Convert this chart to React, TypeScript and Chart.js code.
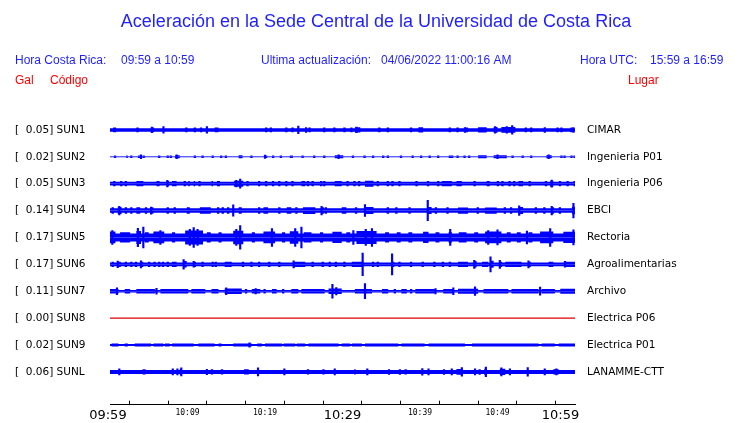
import React, { useEffect, useRef } from 'react';
import { Chart, registerables } from 'chart.js';

Chart.register(...registerables);

// ---- text ----
const titleText = 'Aceleración en la Sede Central de la Universidad de Costa Rica';
const headerLeft = ['Hora Costa Rica:', '09:59 a 10:59'];
const headerMid = ['Ultima actualización:', '04/06/2022 11:00:16 AM'];
const headerRight = ['Hora UTC:', '15:59 a 16:59'];
const columnHeads = ['Gal', 'Código', 'Lugar'];

// ---- stations ----
const stationCodes = ['SUN1', 'SUN2', 'SUN3', 'SUN4', 'SUN5', 'SUN6', 'SUN7', 'SUN8', 'SUN9', 'SUNL'];
const peakGal = ['0.05', '0.02', '0.05', '0.14', '0.17', '0.17', '0.11', '0.00', '0.02', '0.06'];
const placeNames = ['CIMAR', 'Ingenieria P01', 'Ingenieria P06', 'EBCI', 'Rectoria', 'Agroalimentarias', 'Archivo', 'Electrica P06', 'Electrica P01', 'LANAMME-CTT'];

// ---- time axis (minutes after 09:59) ----
const tickMinutes = [0, 5, 10, 15, 20, 25, 30, 35, 40, 45, 50, 55, 60];
const timeTickLabels = ['09:59', '', '10:09', '', '10:19', '', '10:29', '', '10:39', '', '10:49', '', '10:59'];

// ---- amplitudes (percent of trace spacing) ----
const baseAmp = [6.5, 2, 7, 8.5, 15, 7, 5, 0, 3.5, 7.5];

// bursts: [start min, end min, half amplitude]
const sun1Bursts = [[0.4, 0.8, 9], [3.4, 3.7, 9], [5.4, 5.7, 9], [9.7, 10.0, 9], [10.8, 11.1, 9], [11.6, 11.9, 9], [13.5, 14.0, 9], [20.0, 20.3, 9], [20.6, 20.9, 9], [22.6, 22.9, 9], [23.4, 23.7, 9], [25.6, 25.9, 9], [27.5, 27.8, 9], [28.8, 29.1, 9], [30.1, 30.4, 9], [31.0, 31.3, 9], [31.6, 32.3, 10], [34.6, 34.9, 9], [35.7, 36.0, 9], [38.7, 39.0, 9], [39.8, 40.4, 10], [43.7, 44.0, 9], [44.7, 45.0, 9], [45.8, 46.2, 9], [47.5, 48.6, 10], [49.5, 50.0, 11], [50.5, 52.3, 10.5], [53.5, 53.8, 9], [54.2, 54.5, 9], [57.6, 57.9, 9], [58.1, 58.4, 9], [59.4, 59.7, 9]];
const sun1Spikes = [[5.4, 10], [6.9, 12], [12.5, 12], [24.3, 14], [25.3, 9], [31.8, 10], [45.8, 9], [49.7, 12], [51.2, 12], [51.9, 16], [56.1, 9], [59.8, 9]];

const sun2Bursts = [[0.5, 0.8, 5], [2.1, 2.3, 5], [2.6, 2.9, 5], [3.6, 4.0, 5], [4.2, 4.5, 5], [6.2, 6.5, 5], [7.3, 7.6, 5], [7.7, 8.0, 5], [8.4, 9.0, 5.5], [10.8, 11.1, 5], [11.8, 12.1, 5], [13.1, 13.4, 5], [14.2, 14.5, 5], [14.8, 15.1, 5], [16.6, 17.1, 5.5], [18.1, 18.4, 5], [20.0, 20.3, 5], [20.9, 21.2, 5], [21.9, 22.2, 5], [23.2, 23.6, 5], [24.7, 25.0, 5], [26.2, 26.5, 5], [27.5, 27.8, 5], [29.0, 30.1, 5.5], [31.2, 31.5, 5], [32.7, 33.0, 5], [33.8, 34.1, 5], [35.1, 35.4, 5], [35.7, 36.0, 5], [37.4, 37.7, 5], [38.9, 39.2, 5], [40.0, 40.3, 5], [41.1, 41.4, 5], [42.2, 42.5, 5], [43.7, 44.3, 5], [44.7, 45.0, 5], [45.6, 45.9, 5], [46.2, 46.5, 5], [47.5, 48.6, 5.5], [49.5, 51.2, 5.5], [51.8, 52.1, 5], [53.1, 53.4, 5], [54.2, 54.5, 5], [56.3, 57.0, 5.5], [58.1, 58.4, 5], [58.5, 58.8, 5], [59.4, 59.7, 5], [59.8, 60, 5]];
const sun2Spikes = [[4.0, 7], [8.6, 7], [20.0, 6], [29.5, 7], [50.0, 7], [56.6, 7]];

const sun3Bursts = [[0.4, 0.7, 10], [1.3, 1.6, 10], [1.9, 2.2, 10], [3.4, 4.3, 10], [6.0, 6.4, 10], [7.3, 7.6, 10], [8.0, 8.6, 10], [9.5, 9.8, 10], [10.1, 10.3, 10], [10.8, 11.0, 10], [11.4, 11.7, 10], [13.1, 13.3, 10], [13.8, 14.2, 10], [16.0, 17.2, 11], [17.6, 17.9, 10], [19.1, 19.4, 10], [20.0, 20.3, 10], [20.9, 21.2, 10], [21.7, 22.0, 10], [22.6, 22.9, 10], [23.4, 23.7, 10], [24.7, 25.2, 10], [25.4, 25.7, 10], [26.0, 26.3, 10], [27.1, 27.4, 10], [27.5, 27.8, 10], [29.0, 29.9, 10], [30.5, 30.8, 10], [31.4, 31.7, 10], [32.0, 32.3, 10], [32.9, 34.0, 11], [34.4, 34.7, 10], [35.7, 36.0, 10], [36.3, 36.6, 10], [37.2, 37.5, 10], [39.4, 39.7, 10], [40.9, 41.2, 10], [42.2, 42.5, 10], [42.8, 44.1, 10], [44.7, 45.4, 10], [46.9, 47.2, 10], [48.6, 49.0, 10], [49.9, 50.2, 10], [50.5, 50.8, 10], [51.4, 51.7, 10], [52.0, 52.3, 10], [52.7, 53.3, 10], [54.0, 54.3, 10], [56.1, 56.4, 10], [56.8, 57.2, 11], [57.9, 58.2, 10], [58.9, 59.2, 10], [59.8, 60, 10]];
const sun3Spikes = [[7.4, 12], [16.3, 12], [16.8, 17], [57.0, 13]];

const sun4Bursts = [[0.2, 0.5, 12], [1.0, 1.5, 13], [1.9, 2.2, 12], [2.6, 2.9, 12], [3.4, 3.9, 12], [4.5, 4.8, 12], [5.3, 5.6, 12], [7.3, 7.6, 12], [8.2, 8.5, 12], [9.9, 10.3, 12], [11.6, 13.0, 12], [13.8, 14.1, 12], [14.4, 14.7, 12], [15.1, 15.4, 12], [16.6, 17.0, 12], [19.1, 19.4, 12], [19.8, 20.4, 12], [21.7, 22.0, 12], [22.8, 23.4, 12], [23.9, 24.2, 12], [24.9, 26.5, 12.5], [27.3, 27.6, 12], [27.7, 28.0, 12], [29.9, 30.5, 12], [31.6, 31.9, 12], [32.9, 34.0, 13], [35.7, 36.0, 12], [36.8, 37.1, 12], [38.5, 38.8, 12], [41.0, 41.5, 13], [41.9, 42.2, 12], [43.4, 43.7, 12], [44.9, 46.2, 11.5], [47.3, 47.6, 12], [48.4, 49.9, 11.5], [50.8, 51.1, 12], [51.6, 51.9, 12], [52.7, 53.3, 13], [54.8, 55.1, 12], [55.9, 56.2, 12], [57.0, 57.3, 12], [57.9, 58.2, 12], [59.6, 60, 14]];
const sun4Spikes = [[1.2, 16], [5.3, 13], [15.9, 21], [27.3, 16], [32.9, 22], [41.0, 38], [52.8, 18], [57.0, 16], [59.8, 27]];

const sun5Bursts = [[0, 0.7, 22], [1.3, 2.6, 19], [3.4, 4.0, 24], [4.5, 5.0, 19], [5.6, 7.0, 22], [8.0, 8.4, 19], [9.7, 12.0, 26], [12.5, 13.0, 19], [14.0, 14.4, 19], [15.9, 17.2, 25], [18.3, 18.7, 19], [19.8, 21.3, 22], [22.2, 22.6, 19], [23.2, 24.3, 23], [25.0, 26.0, 19], [27.1, 27.5, 19], [28.7, 29.9, 21], [30.5, 31.0, 19], [31.8, 34.4, 24], [35.5, 36.0, 19], [37.0, 37.5, 19], [38.5, 39.0, 19], [40.4, 41.1, 21], [42.0, 42.5, 19], [43.7, 44.1, 20], [45.0, 46.0, 19], [47.0, 47.5, 19], [48.4, 50.5, 22], [51.2, 51.7, 19], [52.5, 53.0, 19], [54.0, 54.5, 19], [55.5, 57.2, 22], [58.5, 60, 21]];
const sun5Spikes = [[0.3, 26], [3.6, 34], [4.3, 39], [6.5, 26], [10.3, 30], [10.8, 37], [11.3, 30], [16.3, 30], [16.8, 44], [20.9, 33], [23.9, 33], [24.7, 39], [31.4, 26], [33.0, 30], [33.8, 33], [43.9, 30], [48.8, 26], [50.0, 28], [53.8, 24], [56.8, 33], [59.8, 28]];

const sun6Bursts = [[0.2, 0.5, 10], [1.0, 1.4, 10], [1.9, 2.2, 10], [2.6, 2.9, 10], [3.2, 3.5, 10], [4.0, 4.3, 10], [4.9, 5.2, 10], [5.6, 5.9, 10], [6.2, 6.5, 10], [6.7, 7.0, 10], [7.3, 7.6, 10], [8.0, 8.6, 10], [9.5, 9.9, 12], [10.8, 11.1, 10], [11.8, 12.1, 10], [13.1, 13.4, 10], [13.5, 13.8, 10], [14.8, 15.7, 10], [17.0, 17.3, 10], [18.1, 18.4, 10], [19.1, 19.4, 10], [20.4, 20.7, 10], [21.7, 22.0, 10], [23.7, 25.2, 10], [26.0, 26.3, 10], [27.3, 27.6, 10], [28.2, 28.5, 10], [29.0, 29.3, 10], [30.1, 30.4, 10], [31.2, 32.7, 10], [33.8, 34.1, 10], [34.4, 34.7, 10], [36.4, 36.7, 10], [37.2, 37.5, 10], [38.7, 39.0, 10], [40.2, 40.5, 10], [41.7, 42.0, 10], [42.8, 43.1, 10], [43.7, 44.0, 10], [44.9, 46.2, 10], [47.0, 47.3, 12], [48.0, 48.8, 10], [49.1, 49.5, 13], [50.3, 50.6, 10], [51.0, 53.1, 10], [54.0, 54.3, 10], [56.6, 57.2, 10], [58.7, 60, 10]];
const sun6Spikes = [[1.0, 12], [4.0, 13], [9.5, 18], [10.8, 11], [23.7, 13], [32.6, 42], [36.4, 39], [47.0, 15], [49.1, 28], [50.3, 15], [54.0, 13], [58.7, 11]];

const sun7Bursts = [[0, 1.1, 8.5], [1.9, 2.6, 8.5], [3.4, 5.8, 8.5], [6.5, 10.1, 8.5], [10.5, 12.3, 8.5], [13.1, 14.0, 8.5], [14.8, 17.0, 10], [17.4, 17.7, 8.5], [18.3, 19.4, 8.5], [19.8, 20.1, 8.5], [20.9, 21.5, 8.5], [22.2, 22.5, 8.5], [23.4, 24.3, 8.5], [24.7, 27.7, 8.5], [28.2, 29.9, 10], [31.6, 33.8, 8.5], [35.1, 35.9, 8.5], [36.6, 36.9, 8.5], [37.6, 38.3, 8.5], [38.7, 39.0, 8.5], [39.4, 41.9, 8.5], [43.0, 44.3, 8.5], [44.9, 47.5, 9], [48.2, 51.4, 8.5], [51.8, 55.3, 8.5], [55.7, 57.4, 8.5], [58.1, 60, 9.5]];
const sun7Spikes = [[0.9, 13], [6.0, 11], [15.0, 13], [18.8, 10], [28.7, 26], [29.2, 14], [32.9, 28], [42.0, 10], [44.3, 13], [47.1, 16], [55.5, 15]];

const sun8Bursts = [];
const sun8Spikes = [];

const sun9Bursts = [[0.2, 1.1, 6], [1.9, 2.3, 6], [3.2, 5.3, 5.5], [5.6, 6.9, 6], [7.1, 7.7, 6], [8.0, 10.8, 6], [11.4, 13.5, 6], [14.0, 14.4, 6], [15.9, 18.3, 6], [19.0, 19.6, 6], [20.0, 22.2, 6], [22.4, 23.9, 6], [24.1, 25.2, 6], [25.6, 29.5, 6], [29.9, 31.0, 6], [31.2, 32.5, 6], [32.9, 37.2, 6], [37.6, 40.6, 6], [41.1, 45.8, 6], [46.7, 55.3, 6], [55.7, 57.4, 6], [57.9, 60, 6]];
const sun9Spikes = [[18.0, 8]];

const sunLBursts = [[4.2, 4.6, 10], [9.0, 9.3, 11], [13.0, 13.3, 10], [14.3, 14.6, 10], [17.3, 17.9, 10], [25.4, 25.7, 10], [27.4, 27.7, 10], [31.5, 31.7, 10], [38.0, 38.3, 10], [44.7, 45.5, 10.5], [48.3, 48.6, 12], [50.3, 51.0, 11.5], [57.2, 57.9, 10]];
const sunLSpikes = [[1.2, 11], [8.1, 11], [8.7, 11], [9.2, 15], [12.5, 10], [19.1, 15], [22.5, 11], [29.0, 11], [33.2, 11], [36.0, 9], [37.4, 9], [40.3, 12], [41.1, 11], [43.1, 9], [44.1, 11], [45.4, 16], [47.1, 11], [47.7, 9], [48.5, 18], [50.5, 15], [51.6, 11], [53.9, 16], [56.1, 11], [57.6, 11]];

const stationBursts = [sun1Bursts, sun2Bursts, sun3Bursts, sun4Bursts, sun5Bursts, sun6Bursts, sun7Bursts, sun8Bursts, sun9Bursts, sunLBursts];
const stationSpikes = [sun1Spikes, sun2Spikes, sun3Spikes, sun4Spikes, sun5Spikes, sun6Spikes, sun7Spikes, sun8Spikes, sun9Spikes, sunLSpikes];
const traceColors = ['#0000ff', '#0000ff', '#0000ff', '#0000ff', '#0000ff', '#0000ff', '#0000ff', '#dd0000', '#0000ff', '#0000ff'];

const TEXT_BLUE = '#1f1fff';
const TEXT_RED = '#ff0000';
const SANS = '"Liberation Sans", Arial, Helvetica, sans-serif';
const DEJAVU = '"DejaVu Sans", sans-serif';

function buildDatasets() {
  const datasets: any[] = [];
  stationCodes.forEach((_, i) => {
    const row = i + 1;
    const base = baseAmp[i];
    const color = traceColors[i];
    const bursts = stationBursts[i];
    if (base === 0 && bursts.length === 0) {
      datasets.push({
        type: 'line',
        data: [{ x: 0, y: row }, { x: 60, y: row }],
        borderColor: color,
        borderWidth: 1.2,
        pointRadius: 0,
        fill: false,
      });
      return;
    }
    const env: number[][] = [[0, base]];
    bursts.forEach(([t0, t1, a]) => {
      env.push([t0, base], [t0, a], [t1, a], [t1, base]);
    });
    env.push([60, base]);
    [-1, 1].forEach((sgn) => {
      datasets.push({
        type: 'line',
        data: env.map(([t, a]) => ({ x: t, y: row + (sgn * a) / 100 })),
        borderColor: 'transparent',
        borderWidth: 0,
        backgroundColor: color,
        pointRadius: 0,
        tension: 0,
        fill: { value: row },
      });
    });
    datasets.push({
      type: 'bar',
      data: stationSpikes[i].map(([t, a]) => ({ x: t, y: [row - a / 100, row + a / 100] })),
      backgroundColor: color,
      borderWidth: 0,
      barThickness: 1.5,
      grouped: false,
    });
  });
  return datasets;
}

const headerPlugin = {
  id: 'headerText',
  afterDraw(chart: any) {
    const ctx = chart.ctx;
    ctx.save();
    ctx.textBaseline = 'middle';
    ctx.fillStyle = TEXT_BLUE;
    ctx.font = `18px ${SANS}`;
    ctx.textAlign = 'center';
    ctx.fillText(titleText, 376, 22);
    ctx.font = `12px ${SANS}`;
    ctx.textAlign = 'left';
    ctx.fillText(headerLeft[0], 15, 61);
    ctx.fillText(headerLeft[1], 121, 61);
    ctx.fillText(headerMid[0], 261, 61);
    ctx.fillText(headerMid[1], 381, 61);
    ctx.fillText(headerRight[0], 580, 61);
    ctx.fillText(headerRight[1], 650, 61);
    ctx.fillStyle = TEXT_RED;
    ctx.fillText(columnHeads[0], 15, 81);
    ctx.fillText(columnHeads[1], 50, 81);
    ctx.fillText(columnHeads[2], 628, 81);
    ctx.restore();
  },
};

export default function App() {
  const ref = useRef<HTMLCanvasElement | null>(null);
  useEffect(() => {
    if (!ref.current) return;
    const rows = stationCodes.map((_, i) => i + 1);
    const lastTick = tickMinutes.length - 1;
    const chart = new Chart(ref.current, {
      type: 'line',
      data: { datasets: buildDatasets() },
      options: {
        animation: false,
        responsive: false,
        devicePixelRatio: 1,
        events: [],
        layout: { padding: { left: 15, top: 103, right: 0, bottom: 0 } },
        plugins: { legend: { display: false }, tooltip: { enabled: false }, title: { display: false } },
        scales: {
          x: {
            type: 'linear',
            min: 0,
            max: 60,
            offset: false,
            afterBuildTicks: (scale: any) => {
              scale.ticks = tickMinutes.map((v) => ({ value: v }));
            },
            afterFit: (scale: any) => {
              scale.height = 17;
            },
            grid: { drawOnChartArea: false, drawTicks: true, tickLength: -4, color: '#000', lineWidth: 1 },
            border: { display: true, color: '#000', width: 1 },
            ticks: {
              autoSkip: false,
              maxRotation: 0,
              minRotation: 0,
              padding: 7,
              color: '#000',
              callback: (_v: any, idx: number) => {
                const label = timeTickLabels[idx];
                // end labels are kept inside the axis span, as in the source plot
                if (idx === 0) return label + ' ';
                if (idx === lastTick) return label + '       ';
                return label;
              },
              font: (ctx: any) => (ctx.index % 6 === 0 ? { family: DEJAVU, size: 13 } : { family: '"DejaVu Sans Mono", monospace', size: 8 }),
            },
          },
          y: {
            type: 'linear',
            position: 'left',
            min: 0,
            max: 11.22,
            reverse: true,
            afterBuildTicks: (scale: any) => {
              scale.ticks = rows.map((v) => ({ value: v }));
            },
            afterFit: (scale: any) => {
              scale.width = 95;
            },
            grid: { display: false, drawTicks: false },
            border: { display: false },
            ticks: {
              crossAlign: 'far',
              padding: 0,
              color: '#000',
              font: { family: DEJAVU, size: 10.5 },
              callback: (v: any) => {
                const i = Math.round(Number(v)) - 1;
                return `[  ${peakGal[i]}] ${stationCodes[i]}`;
              },
            },
          },
          yRight: {
            type: 'linear',
            position: 'right',
            min: 0,
            max: 11.22,
            reverse: true,
            afterBuildTicks: (scale: any) => {
              scale.ticks = rows.map((v) => ({ value: v }));
            },
            afterFit: (scale: any) => {
              scale.width = 165;
            },
            grid: { display: false, drawTicks: false },
            border: { display: false },
            ticks: {
              crossAlign: 'near',
              padding: 12,
              color: '#000',
              font: { family: DEJAVU, size: 10.5 },
              callback: (v: any) => placeNames[Math.round(Number(v)) - 1],
            },
          },
        },
      } as any,
      plugins: [headerPlugin],
    });
    return () => chart.destroy();
  }, []);
  return (
    <div style={{ position: 'fixed', left: 0, top: 0, width: 740, height: 423, background: '#fff' }}>
      <canvas ref={ref} width={740} height={423} style={{ display: 'block', width: 740, height: 423 }} />
    </div>
  );
}
